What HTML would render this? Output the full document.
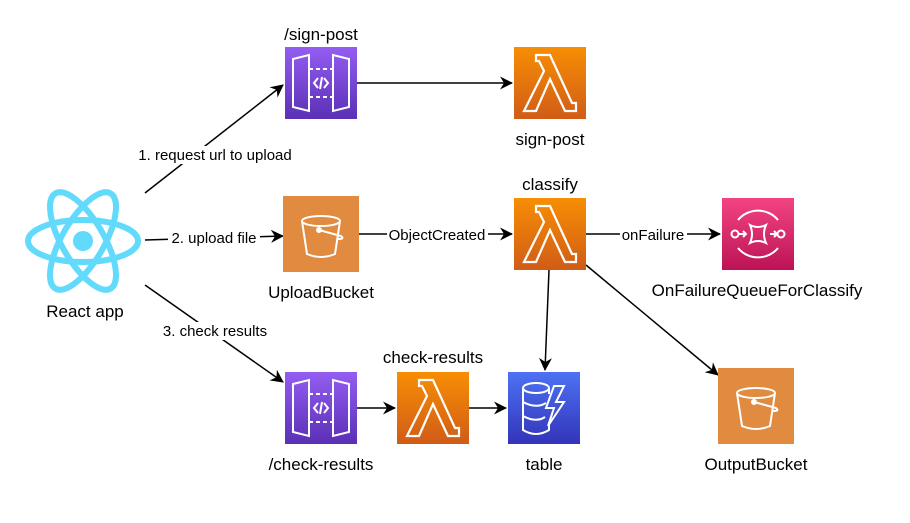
<!DOCTYPE html>
<html><head><meta charset="utf-8"><style>body{margin:0;background:#fff}svg{display:block}text{font-family:"Liberation Sans",sans-serif;font-size:17px;fill:#000}</style></head><body>
<svg width="910" height="523" viewBox="0 0 910 523" xmlns="http://www.w3.org/2000/svg">
<defs>
<linearGradient id="gp" x1="0" y1="0" x2="0" y2="1"><stop offset="0" stop-color="#945df2"/><stop offset="1" stop-color="#5a30b5"/></linearGradient>
<linearGradient id="go" x1="0" y1="0" x2="0" y2="1"><stop offset="0" stop-color="#f78e04"/><stop offset="1" stop-color="#d05c17"/></linearGradient>
<linearGradient id="gr" x1="0" y1="0" x2="0" y2="1"><stop offset="0" stop-color="#f34482"/><stop offset="1" stop-color="#bc1356"/></linearGradient>
<linearGradient id="gb" x1="0" y1="0" x2="0" y2="1"><stop offset="0" stop-color="#4d72f3"/><stop offset="1" stop-color="#3334b9"/></linearGradient>
<marker id="a" markerWidth="13" markerHeight="13" refX="12" refY="6.5" orient="auto" markerUnits="userSpaceOnUse"><path d="M0,0 L13,6.5 L0,13 L4,6.5z" fill="#000"/></marker>
<g id="api"><rect width="72" height="72" fill="url(#gp)"/><g fill="none" stroke="#fff" stroke-width="2"><path d="M8,12 L24,8 L24,64 L8,60Z M64,12 L48,8 L48,64 L64,60Z"/><path d="M24,22 H48 M24,50 H48" stroke-dasharray="4,3"/><path d="M33,31 L29,36 L33,41 M39,31 L43,36 L39,41 M37,30 L35,42"/></g></g>
<g id="lam"><rect width="72" height="72" fill="url(#go)"/><path d="M22,8 H36 L58,56 H62 V64 H51 L36,32 L22,64 H10 L30,24 L25,14 H22Z" fill="none" stroke="#fff" stroke-width="2.2" stroke-linejoin="miter"/></g>
<g id="bkt"><rect width="76" height="76" fill="#e08b3f"/><g fill="none" stroke="#fff" stroke-width="2"><ellipse cx="38" cy="25" rx="19" ry="5"/><path d="M19,25 L24,58 Q38,64 52,58 L57,25"/><circle cx="36" cy="34" r="2" fill="#fff"/><path d="M36,34 L58,40 Q62,43 55,43"/></g></g>
</defs>
<g stroke="#000" stroke-width="1.5" fill="none" marker-end="url(#a)">
<path d="M145,193 L283,85"/>
<path d="M145,240 L283,236"/>
<path d="M145,285 L283,382"/>
<path d="M357,83 L512,83"/>
<path d="M359,234 L512,234"/>
<path d="M586,234 L720,234"/>
<path d="M549,270 L545,370"/>
<path d="M586,265 L718,375"/>
<path d="M357,408 L395,408"/>
<path d="M469,408 L506,408"/>
</g>
<g fill="#fff">
<rect x="134" y="146" width="162" height="18"/><rect x="168" y="229" width="92" height="18"/><rect x="158" y="322" width="114" height="18"/>
<rect x="387" y="226" width="101" height="18"/><rect x="620" y="226" width="67" height="18"/>
</g>
<text x="215" y="160" text-anchor="middle" style="font-size:15px">1. request url to upload</text>
<text x="214" y="243" text-anchor="middle" style="font-size:15px">2. upload file</text>
<text x="215" y="336" text-anchor="middle" style="font-size:15px">3. check results</text>
<text x="437" y="240" text-anchor="middle" style="font-size:15px">ObjectCreated</text>
<text x="653" y="240" text-anchor="middle" style="font-size:15px">onFailure</text>
<use href="#api" x="285" y="47"/><use href="#lam" x="514" y="47"/>
<use href="#bkt" x="283" y="196"/><use href="#lam" x="514" y="198"/>
<rect x="722" y="198" width="72" height="72" fill="url(#gr)"/>
<g fill="none" stroke="#fff" stroke-width="2" transform="translate(722,198)"><path d="M16,22 A26,26 0 0 1 56,22 M16,50 A26,26 0 0 0 56,50"/><circle cx="13" cy="36" r="3.5"/><circle cx="59" cy="36" r="3.5"/><path d="M17,36 H24 M21,33 L24,36 L21,39 M48,36 H55 M52,33 L55,36 L52,39 M28,27 Q36,31 44,27 Q40,36 44,45 Q36,41 28,45 Q32,36 28,27Z"/></g>
<use href="#api" x="285" y="372"/><use href="#lam" x="397" y="372"/>
<rect x="508" y="372" width="72" height="72" fill="url(#gb)"/>
<g fill="none" stroke="#fff" stroke-width="2" transform="translate(508,372)"><ellipse cx="28" cy="16" rx="13" ry="5"/><path d="M15,16 V58 Q28,66 41,58 V50 M15,30 Q28,37 38,31 M15,44 Q28,51 37,45 M41,16 V22"/><path d="M46,14 L38,36 H46 L40,54 L56,30 H48 L56,14Z"/></g>
<use href="#bkt" x="718" y="368"/>
<g fill="none" stroke="#61dafb" stroke-width="6"><ellipse cx="83" cy="241" rx="55" ry="21"/><ellipse cx="83" cy="241" rx="55" ry="21" transform="rotate(60 83 241)"/><ellipse cx="83" cy="241" rx="55" ry="21" transform="rotate(-60 83 241)"/></g>
<circle cx="83" cy="241" r="10" fill="#61dafb"/>
<text x="321" y="40" text-anchor="middle">/sign-post</text>
<text x="550" y="145" text-anchor="middle">sign-post</text>
<text x="550" y="190" text-anchor="middle">classify</text>
<text x="321" y="298" text-anchor="middle">UploadBucket</text>
<text x="757" y="296" text-anchor="middle">OnFailureQueueForClassify</text>
<text x="85" y="317" text-anchor="middle">React app</text>
<text x="433" y="363" text-anchor="middle">check-results</text>
<text x="321" y="470" text-anchor="middle">/check-results</text>
<text x="544" y="470" text-anchor="middle">table</text>
<text x="756" y="470" text-anchor="middle">OutputBucket</text>
</svg>
</body></html>
